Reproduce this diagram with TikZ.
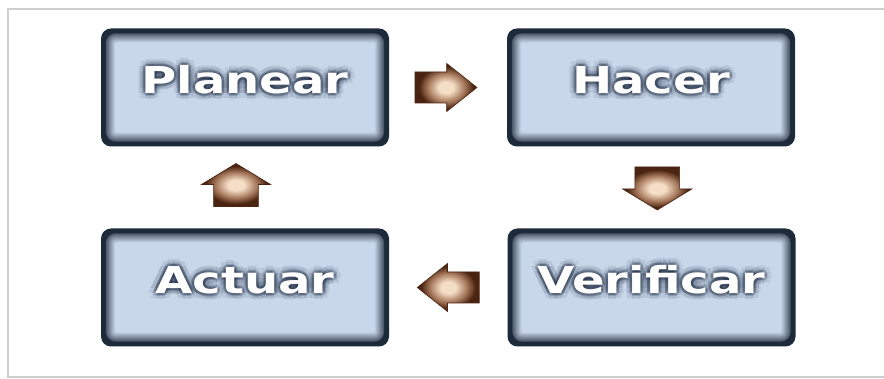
\documentclass[tikz,border=0pt]{standalone}
\usepackage{fontspec}
\setmainfont{DejaVu Sans}
\usetikzlibrary{calc}
\definecolor{navy}{HTML}{1C2A3A}
\definecolor{boxfill}{HTML}{C9D7EA}
\definecolor{glow}{HTML}{14213A}
\definecolor{framegray}{HTML}{CFCFCF}
\definecolor{brLight}{HTML}{F4DEC6}
\definecolor{brMid}{HTML}{A5775A}
\definecolor{brDark}{HTML}{4A2410}
\pgfdeclareradialshading{arrowsh}{\pgfpoint{0bp}{0bp}}{color(0bp)=(brLight); color(6bp)=(brLight); color(15bp)=(brMid); color(22bp)=(brDark); color(50bp)=(brDark)}
\newcommand\lbltext[1]{\scalebox{1.3}[1]{\fontsize{37}{37}\selectfont\bfseries #1}}
\newcommand\blockarrow[2]{%
  \begin{scope}[shift={(#1)}, xscale=1.44, rotate=#2]
    \shade[shading=arrowsh, draw=brDark, line width=0.6pt]
      (-21.5,-15.5) -- (0.5,-15.5) -- (0.5,-24) -- (21.5,0) -- (0.5,24) -- (0.5,15.5) -- (-21.5,15.5) -- cycle;
  \end{scope}}
\tikzset{
  stage/.style={rectangle, rounded corners=10pt, minimum width=288pt, minimum height=118pt, fill=navy, inner sep=0pt},
  glowtext/.style={text=glow, anchor=base, inner sep=0pt},
  maintext/.style={text=white, anchor=base, inner sep=0pt}
}
\begin{document}
\begin{tikzpicture}[x=1pt,y=1pt]
\useasboundingbox (0,0) rectangle (884,379);
\fill[white] (0,0) rectangle (884,379);
\draw[framegray, line width=1.5pt] (895,370) -- (8,370) -- (8,2) -- (895,2);

\node[stage] (P) at (245,291.5) {};
\node[stage] (H) at (651,291.5) {};
\node[stage] (V) at (651.5,91.5) {};
\node[stage] (A) at (245,91.5) {};

\foreach \n in {P,H,V,A}{
  \foreach \i in {0,...,9}{
    \pgfmathsetmacro\d{5+\i}
    \pgfmathtruncatemacro\m{72-\i*8}
    \pgfmathsetmacro\rc{max(10-\i,3)}
    \fill[navy!\m!boxfill, rounded corners=\rc pt]
      ($(\n.south west)+(\d,\d)$) rectangle ($(\n.north east)-(\d,\d)$);
  }
}

\foreach \n/\t in {P/Planear,H/Hacer,V/Verificar,A/Actuar}{
  \foreach \a in {0,45,...,315}{
    \node[glowtext, text opacity=0.09] (\n-go\a) at ($(\n.center)+(\a:6.5)+(0,-6)$) {\lbltext{\t}};
    \node[glowtext, text opacity=0.2] (\n-gi\a) at ($(\n.center)+(\a:3)+(0,-6)$) {\lbltext{\t}};
  }
  \node[maintext] (\n-t) at ($(\n.center)+(0,-6)$) {\lbltext{\t}};
}

\coordinate (m1) at ($(P.east)!0.5!(H.west)+(-2,0)$);
\coordinate (m2) at ($(H.south)!0.5!(V.north)+(6,-1)$);
\coordinate (m3) at ($(V.west)!0.5!(A.east)$);
\coordinate (m4) at ($(A.north)!0.5!(P.south)+(-9,2.5)$);
\blockarrow{m1}{0}
\blockarrow{m2}{-90}
\blockarrow{m3}{180}
\blockarrow{m4}{90}
\end{tikzpicture}
\end{document}
